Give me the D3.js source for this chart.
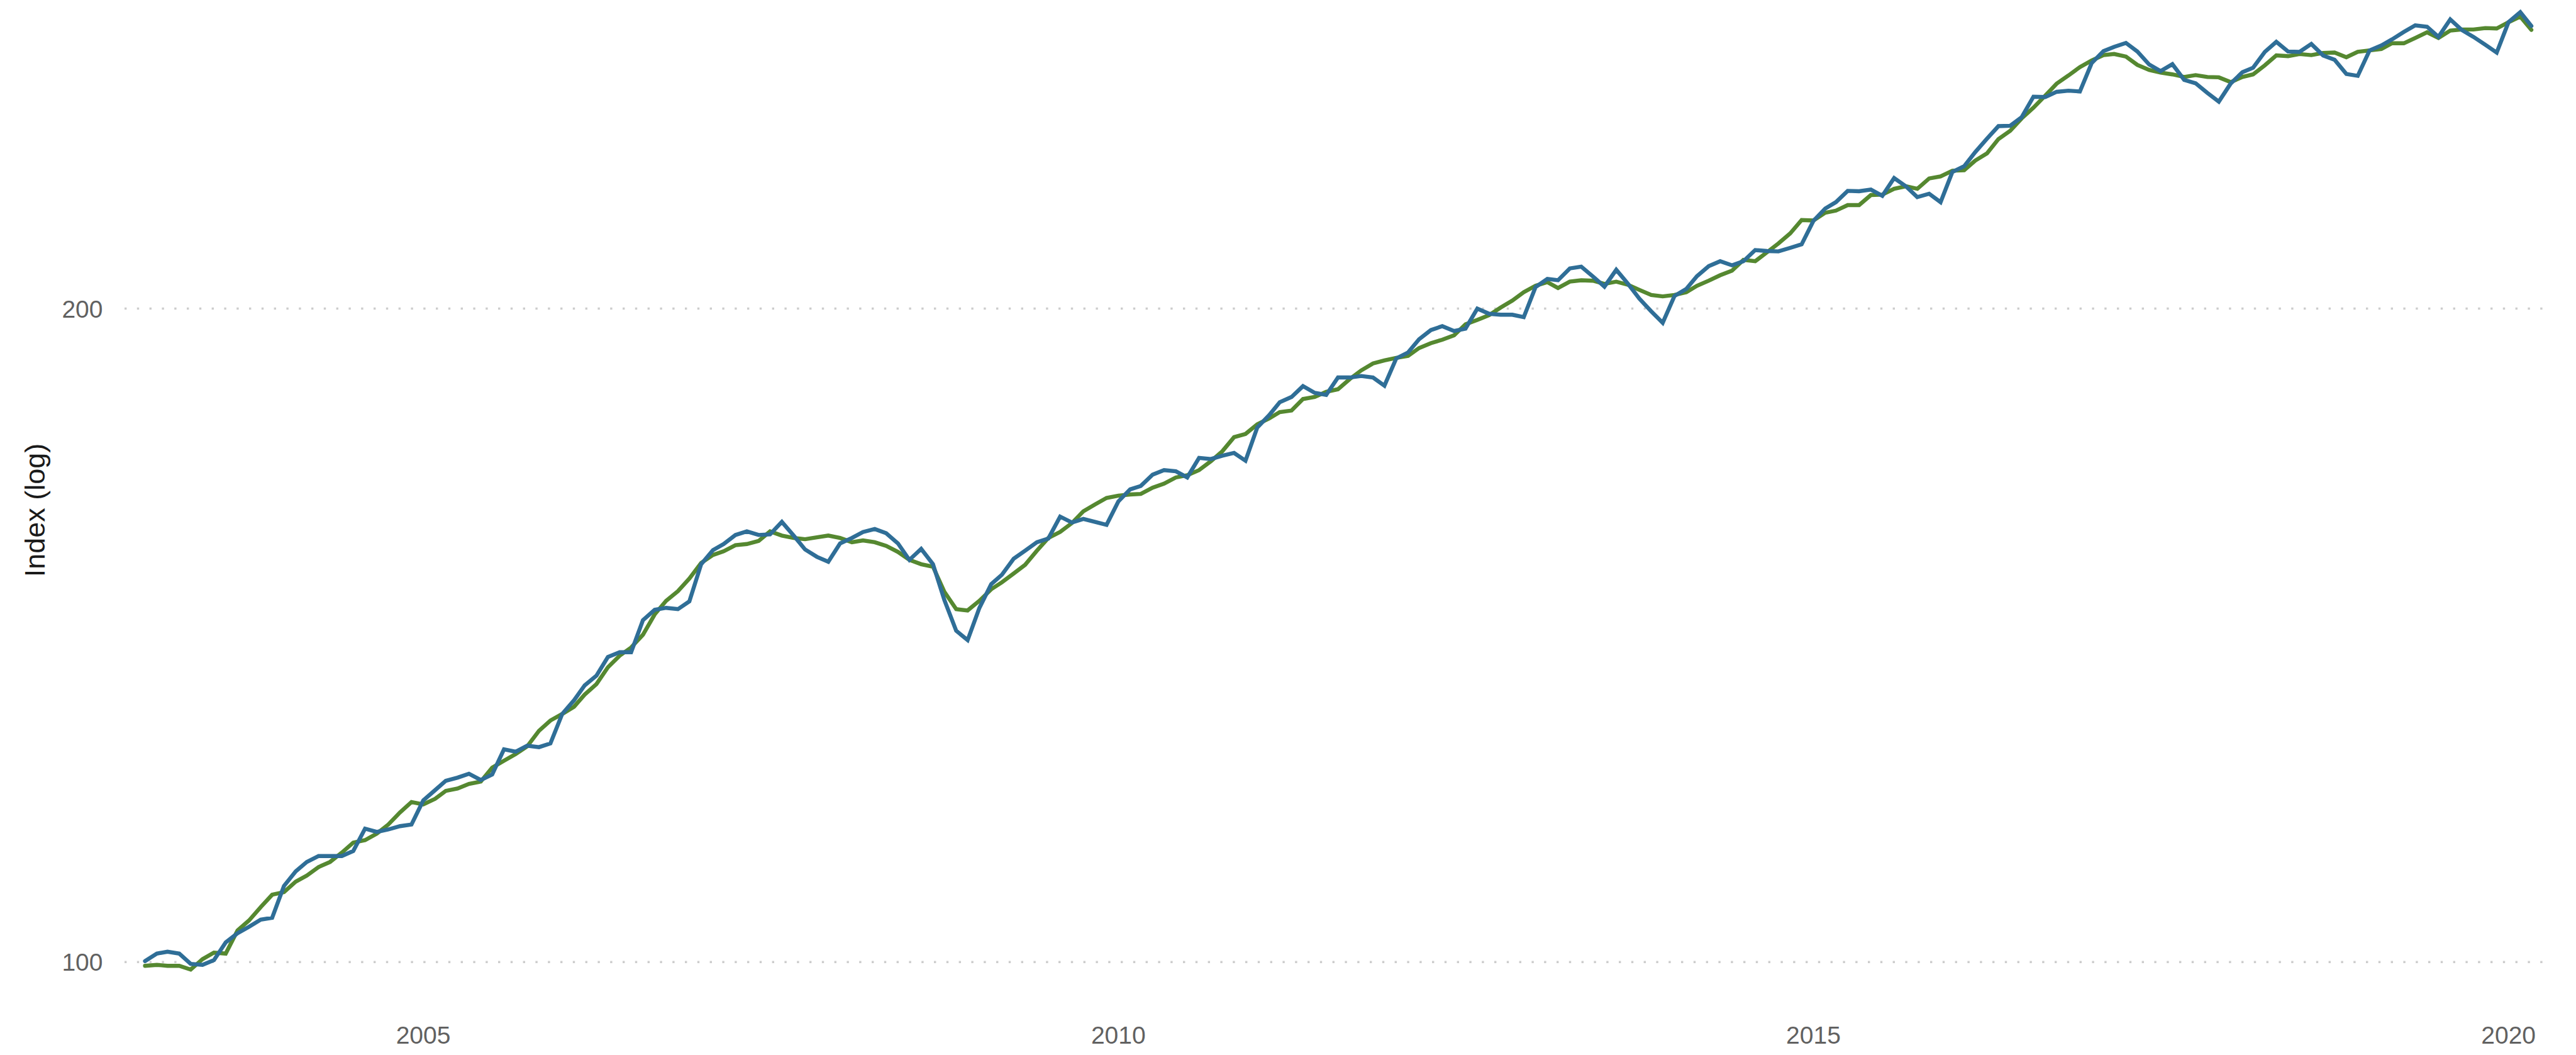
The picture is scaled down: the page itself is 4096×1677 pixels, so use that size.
<!DOCTYPE html>
<html>
<head>
<meta charset="utf-8">
<script src="https://cdn.jsdelivr.net/npm/d3@7"></script>
<style>
  html, body { margin: 0; padding: 0; background: #ffffff; }
  svg { display: block; }
</style>
</head>
<body>
<div id="chart"></div>
<script>
// monthly index, Jan 2003 .. Mar 2020 (207 months)
const startMonth = new Date(2003, 0, 1);
const endMonth = new Date(2020, 3, 1); // exclusive

const indexValues = [
  100.1, 100.9, 101.1, 100.9, 99.8, 99.7, 100.2, 102.1, 103.1, 103.8, 104.6, 104.8,
  108.4, 110.1, 111.2, 111.9, 111.9, 111.9, 112.5, 115.2, 114.8, 115.1, 115.5, 115.7,
  118.7, 120.0, 121.2, 121.6, 122.1, 121.3, 122.0, 125.3, 125.0, 125.8, 125.6, 126.1,
  130.1, 132.0, 134.1, 135.5, 138.2, 138.9, 138.9, 143.7, 145.3, 145.6, 145.4, 146.6,
  152.5, 154.8, 155.8, 157.3, 157.9, 157.3, 157.4, 159.5, 157.2, 154.9, 153.7, 152.9,
  155.9, 156.8, 157.8, 158.3, 157.6, 155.9, 153.2, 155.0, 152.5, 146.8, 142.1, 140.7,
  145.6, 149.3, 150.8, 153.4, 154.7, 156.1, 156.7, 160.4, 159.4, 160.0, 159.5, 159.0,
  163.0, 165.1, 165.7, 167.7, 168.5, 168.3, 167.2, 170.7, 170.5, 171.1, 171.6, 170.2,
  176.3, 178.6, 181.1, 182.1, 184.2, 182.9, 182.5, 185.9, 185.9, 186.2, 185.9, 184.3,
  189.7, 190.9, 193.6, 195.5, 196.3, 195.3, 195.8, 200.0, 198.9, 198.7, 198.7, 198.2,
  204.6, 206.4, 206.1, 208.7, 209.1, 206.9, 204.7, 208.4, 205.3, 202.1, 199.4, 197.0,
  202.7, 204.2, 207.0, 209.2, 210.3, 209.4, 210.3, 212.8, 212.6, 212.5, 213.3, 214.1,
  219.5, 222.4, 223.9, 226.6, 226.5, 226.9, 225.4, 229.7, 227.7, 225.1, 225.9, 223.9,
  231.2, 232.6, 236.1, 239.5, 242.7, 242.8, 245.0, 250.4, 250.3, 251.7, 252.0, 251.8,
  259.5, 262.8, 264.0, 265.1, 262.7, 259.1, 257.3, 259.2, 254.9, 254.0, 251.4, 249.1,
  253.9, 257.0, 258.2, 262.6, 265.4, 262.7, 262.6, 264.8, 261.6, 260.4, 256.5, 256.0,
  263.0, 264.4, 266.1, 268.2, 270.1, 269.7, 266.8, 271.8, 268.7, 266.8, 264.6, 262.4,
  271.0, 273.9, 269.9
];

const trendValues = [
  99.6, 99.7, 99.6, 99.6, 99.2, 100.3, 101.0, 100.9, 103.4, 104.5, 106.0, 107.4,
  107.7, 108.9, 109.6, 110.6, 111.2, 112.3, 113.5, 113.8, 114.6, 115.7, 117.2, 118.5,
  118.2, 118.9, 119.9, 120.2, 120.8, 121.1, 122.9, 123.8, 124.7, 125.7, 127.8, 129.2,
  130.1, 131.1, 132.8, 134.3, 136.7, 138.4, 139.6, 141.5, 144.6, 146.7, 148.2, 150.2,
  152.7, 154.0, 154.6, 155.6, 155.8, 156.3, 157.9, 157.2, 156.8, 156.6, 156.9, 157.2,
  156.8, 156.1, 156.4, 156.1, 155.5, 154.5, 153.2, 152.5, 152.1, 148.1, 145.4, 145.2,
  146.7, 148.5, 149.6, 151.0, 152.4, 154.7, 156.8, 157.8, 159.3, 161.3, 162.5, 163.6,
  164.0, 164.2, 164.3, 165.4, 166.1, 167.2, 167.6, 168.5, 170.1, 171.9, 174.5, 175.1,
  176.9, 178.0, 179.2, 179.5, 181.7, 182.1, 183.1, 183.6, 185.6, 187.3, 188.7, 189.3,
  189.8, 190.2, 191.8, 192.8, 193.5, 194.4, 196.7, 197.6, 198.6, 200.2, 201.7, 203.5,
  204.9, 205.7, 204.4, 205.8, 206.1, 206.0, 205.3, 205.8, 205.1, 204.0, 202.9, 202.6,
  202.9, 203.5, 204.9, 206.0, 207.2, 208.2, 210.6, 210.3, 212.3, 214.3, 216.6, 219.7,
  219.6, 221.4, 221.9, 223.2, 223.2, 225.6, 225.7, 227.1, 227.7, 227.1, 229.6, 230.1,
  231.5, 231.6, 234.0, 235.8, 239.4, 241.5, 244.7, 247.5, 250.7, 253.9, 256.1, 258.4,
  260.2, 261.7, 262.0, 261.3, 259.0, 257.6, 256.9, 256.4, 255.7, 256.2, 255.7, 255.6,
  254.3, 255.7, 256.4, 258.9, 261.6, 261.4, 262.0, 261.7, 262.3, 262.4, 261.1, 262.6,
  263.0, 263.4, 265.0, 265.0, 266.5, 268.1, 266.5, 268.6, 268.9, 268.9, 269.3, 269.2,
  271.0, 272.6, 268.8
];

const yTicks = [100, 200];
const xTickYears = [2005, 2010, 2015, 2020];

const width = 4096, height = 1677;
const months = d3.timeMonth.range(startMonth, endMonth);

const svg = d3.select("#chart").append("svg")
  .attr("width", width)
  .attr("height", height);

// panel
const panelLeft = 198, panelRight = 4059;

const x = d3.scaleTime()
  .domain([months[0], months[months.length - 1]])
  .range([230.6, 4025]);

const y = d3.scaleLog()
  .domain([100, 200])
  .range([1529.2, 490.5]);

// dotted horizontal gridlines
svg.append("g")
  .selectAll("line")
  .data(yTicks)
  .join("line")
  .attr("x1", panelLeft)
  .attr("x2", panelRight)
  .attr("y1", (d) => y(d))
  .attr("y2", (d) => y(d))
  .attr("stroke", "#cdcdcd")
  .attr("stroke-width", 3.4)
  .attr("stroke-dasharray", "3.4,16.4");

// y tick labels
svg.append("g")
  .selectAll("text")
  .data(yTicks)
  .join("text")
  .attr("x", 163.5)
  .attr("y", (d) => y(d))
  .attr("dy", "0.36em")
  .attr("text-anchor", "end")
  .style("font-family", "'Liberation Sans', Arial, sans-serif")
  .style("font-size", "39px")
  .attr("fill", "#616161")
  .text((d) => d);

// x tick labels
svg.append("g")
  .selectAll("text")
  .data(xTickYears)
  .join("text")
  .attr("x", (d) => x(new Date(d, 0, 1)))
  .attr("y", 1659)
  .attr("text-anchor", "middle")
  .style("font-family", "'Liberation Sans', Arial, sans-serif")
  .style("font-size", "39px")
  .attr("fill", "#616161")
  .text((d) => d);

// y axis title
svg.append("text")
  .attr("transform", "translate(55.5,811) rotate(-90)")
  .attr("dy", "0.35em")
  .attr("text-anchor", "middle")
  .style("font-family", "'Liberation Sans', Arial, sans-serif")
  .style("font-size", "45px")
  .attr("fill", "#1a1a1a")
  .text("Index (log)");

const line = d3.line()
  .x((d, i) => x(months[i]))
  .y((d) => y(d));

// smoothed series first, raw index on top
svg.append("path")
  .datum(trendValues)
  .attr("d", line)
  .attr("fill", "none")
  .attr("stroke", "#558830")
  .attr("stroke-width", 6.4)
  .attr("stroke-linecap", "round");

svg.append("path")
  .datum(indexValues)
  .attr("d", line)
  .attr("fill", "none")
  .attr("stroke", "#2f6e97")
  .attr("stroke-width", 6.4)
  .attr("stroke-linecap", "round");
</script>
</body>
</html>
